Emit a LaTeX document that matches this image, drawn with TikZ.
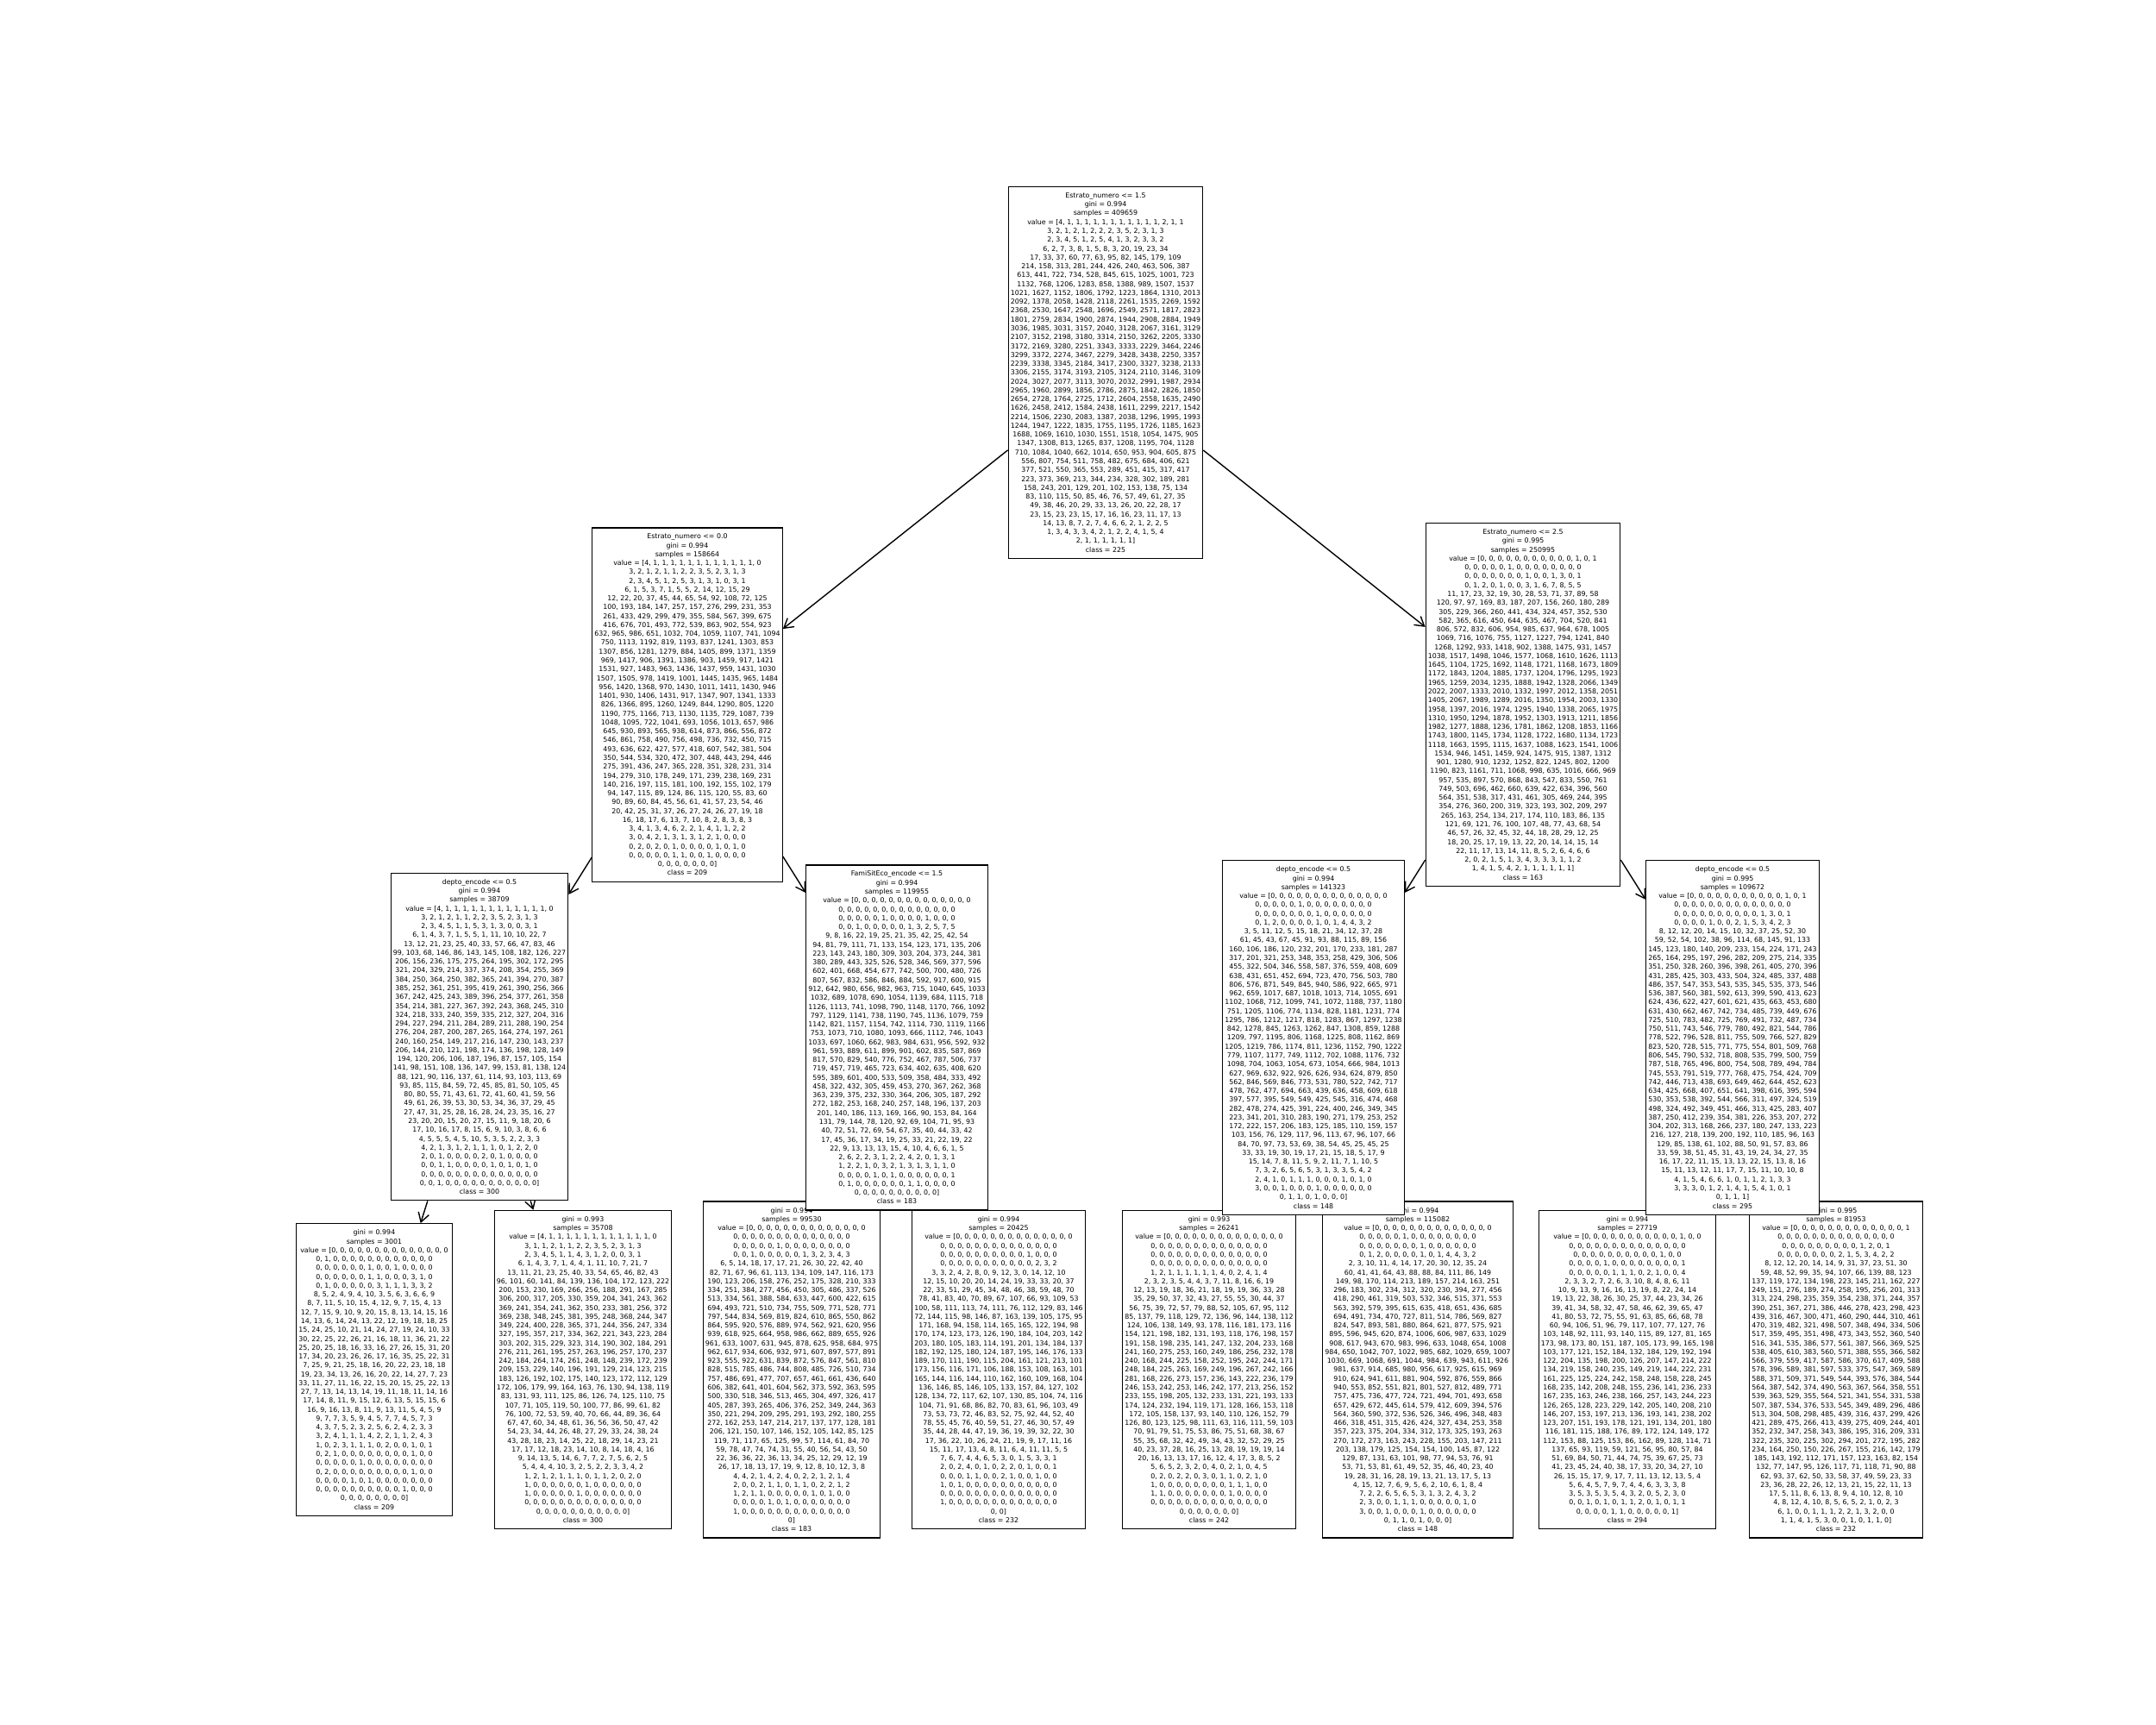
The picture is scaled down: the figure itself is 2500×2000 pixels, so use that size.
\documentclass[tikz,border=0pt]{standalone}
\usepackage{fontspec}
\setmainfont{DejaVu Sans}
\usetikzlibrary{arrows.meta,backgrounds}
\tikzset{treenode/.style={draw,fill=white,align=center,line width=0.35pt,
    inner xsep=0.7pt,inner ysep=2pt,font=\fontsize{2.24}{2.92}\selectfont}}
\begin{document}
\begin{tikzpicture}[x=0.01cm,y=-0.01cm,line width=0.35pt,>={Straight Barb[length=3pt,width=3.6pt]}]
\useasboundingbox (0,0) rectangle (2500,2000);
% leaves
\node[treenode] (lll) at (434,1588) {gini = 0.994\\samples = 3001\\value = [0, 0, 0, 0, 0, 0, 0, 0, 0, 0, 0, 0, 0, 0\\0, 1, 0, 0, 0, 0, 0, 0, 0, 0, 0, 0, 0, 0\\0, 0, 0, 0, 0, 0, 1, 0, 0, 1, 0, 0, 0, 0\\0, 0, 0, 0, 0, 0, 1, 1, 0, 0, 0, 3, 1, 0\\0, 1, 0, 0, 0, 0, 0, 3, 1, 1, 1, 3, 3, 2\\8, 5, 2, 4, 9, 4, 10, 3, 5, 6, 3, 6, 6, 9\\8, 7, 11, 5, 10, 15, 4, 12, 9, 7, 15, 4, 13\\12, 7, 15, 9, 10, 9, 20, 15, 8, 13, 14, 15, 16\\14, 13, 6, 14, 24, 13, 22, 12, 19, 18, 18, 25\\15, 24, 25, 10, 21, 14, 24, 27, 19, 24, 10, 33\\30, 22, 25, 22, 26, 21, 16, 18, 11, 36, 21, 22\\25, 20, 25, 18, 16, 33, 16, 27, 26, 15, 31, 20\\17, 34, 20, 23, 26, 26, 17, 16, 35, 25, 22, 31\\7, 25, 9, 21, 25, 18, 16, 20, 22, 23, 18, 18\\19, 23, 34, 13, 26, 16, 20, 22, 14, 27, 7, 23\\33, 11, 27, 11, 16, 22, 15, 20, 15, 25, 22, 13\\27, 7, 13, 14, 13, 14, 19, 11, 18, 11, 14, 16\\17, 14, 8, 11, 9, 15, 12, 6, 13, 5, 15, 15, 6\\16, 9, 16, 13, 8, 11, 9, 13, 11, 5, 4, 5, 9\\9, 7, 7, 3, 5, 9, 4, 5, 7, 7, 4, 5, 7, 3\\4, 3, 7, 5, 2, 3, 2, 5, 6, 2, 4, 2, 3, 3\\3, 2, 4, 1, 1, 1, 4, 2, 2, 1, 1, 2, 4, 3\\1, 0, 2, 3, 1, 1, 1, 0, 2, 0, 0, 1, 0, 1\\0, 2, 1, 0, 0, 0, 0, 0, 0, 0, 0, 1, 0, 0\\0, 0, 0, 0, 0, 1, 0, 0, 0, 0, 0, 0, 0, 0\\0, 2, 0, 0, 0, 0, 0, 0, 0, 0, 0, 1, 0, 0\\0, 0, 0, 0, 1, 0, 1, 0, 0, 0, 0, 0, 0, 0\\0, 0, 0, 0, 0, 0, 0, 0, 0, 0, 1, 0, 0, 0\\0, 0, 0, 0, 0, 0, 0, 0]\\class = 209};
\node[treenode] (llr) at (676,1588) {gini = 0.993\\samples = 35708\\value = [4, 1, 1, 1, 1, 1, 1, 1, 1, 1, 1, 1, 1, 0\\3, 1, 1, 2, 1, 1, 2, 2, 3, 5, 2, 3, 1, 3\\2, 3, 4, 5, 1, 1, 4, 3, 1, 2, 0, 0, 3, 1\\6, 1, 4, 3, 7, 1, 4, 4, 1, 11, 10, 7, 21, 7\\13, 11, 21, 23, 25, 40, 33, 54, 65, 46, 82, 43\\96, 101, 60, 141, 84, 139, 136, 104, 172, 123, 222\\200, 153, 230, 169, 266, 256, 188, 291, 167, 285\\306, 200, 317, 205, 330, 359, 204, 341, 243, 362\\369, 241, 354, 241, 362, 350, 233, 381, 256, 372\\369, 238, 348, 245, 381, 395, 248, 368, 244, 347\\349, 224, 400, 228, 365, 371, 244, 356, 247, 334\\327, 195, 357, 217, 334, 362, 221, 343, 223, 284\\303, 202, 315, 229, 323, 314, 190, 302, 184, 291\\276, 211, 261, 195, 257, 263, 196, 257, 170, 237\\242, 184, 264, 174, 261, 248, 148, 239, 172, 239\\209, 153, 229, 140, 196, 191, 129, 214, 123, 215\\183, 126, 192, 102, 175, 140, 123, 172, 112, 129\\172, 106, 179, 99, 164, 163, 76, 130, 94, 138, 119\\83, 131, 93, 111, 125, 86, 126, 74, 125, 110, 75\\107, 71, 105, 119, 50, 100, 77, 86, 99, 61, 82\\76, 100, 72, 53, 59, 40, 70, 66, 44, 89, 36, 64\\67, 47, 60, 34, 48, 61, 36, 56, 36, 50, 47, 42\\54, 23, 34, 44, 26, 48, 27, 29, 33, 24, 38, 24\\43, 28, 18, 23, 14, 25, 22, 18, 29, 14, 23, 21\\17, 17, 12, 18, 23, 14, 10, 8, 14, 18, 4, 16\\9, 14, 13, 5, 14, 6, 7, 7, 2, 7, 5, 6, 2, 5\\5, 4, 4, 4, 10, 3, 2, 5, 2, 2, 3, 3, 4, 2\\1, 2, 1, 2, 1, 1, 1, 0, 1, 1, 2, 0, 2, 0\\1, 0, 0, 0, 0, 0, 0, 1, 0, 0, 0, 0, 0, 0\\1, 0, 0, 0, 0, 0, 1, 0, 0, 0, 0, 0, 0, 0\\0, 0, 0, 0, 0, 0, 0, 0, 0, 0, 0, 0, 0, 0\\0, 0, 0, 0, 0, 0, 0, 0, 0, 0, 0]\\class = 300};
\node[treenode] (lrl) at (918,1588) {gini = 0.994\\samples = 99530\\value = [0, 0, 0, 0, 0, 0, 0, 0, 0, 0, 0, 0, 0, 0\\0, 0, 0, 0, 0, 0, 0, 0, 0, 0, 0, 0, 0, 0\\0, 0, 0, 0, 0, 1, 0, 0, 0, 0, 0, 0, 0, 0\\0, 0, 1, 0, 0, 0, 0, 0, 1, 3, 2, 3, 4, 3\\6, 5, 14, 18, 17, 17, 21, 26, 30, 22, 42, 40\\82, 71, 67, 96, 61, 113, 134, 109, 147, 116, 173\\190, 123, 206, 158, 276, 252, 175, 328, 210, 333\\334, 251, 384, 277, 456, 450, 305, 486, 337, 526\\513, 334, 561, 388, 584, 633, 447, 600, 422, 615\\694, 493, 721, 510, 734, 755, 509, 771, 528, 771\\797, 544, 834, 569, 819, 824, 610, 865, 550, 862\\864, 595, 920, 576, 889, 974, 562, 921, 620, 956\\939, 618, 925, 664, 958, 986, 662, 889, 655, 926\\961, 633, 1007, 631, 945, 878, 625, 958, 684, 975\\962, 617, 934, 606, 932, 971, 607, 897, 577, 891\\923, 555, 922, 631, 839, 872, 576, 847, 561, 810\\828, 515, 785, 486, 744, 808, 485, 726, 510, 734\\757, 486, 691, 477, 707, 657, 461, 661, 436, 640\\606, 382, 641, 401, 604, 562, 373, 592, 363, 595\\500, 330, 518, 346, 513, 465, 304, 497, 326, 417\\405, 287, 393, 265, 406, 376, 252, 349, 244, 363\\350, 221, 294, 209, 295, 291, 193, 292, 180, 255\\272, 162, 253, 147, 214, 217, 137, 177, 128, 181\\206, 121, 150, 107, 146, 152, 105, 142, 85, 125\\119, 71, 117, 65, 125, 99, 57, 114, 61, 84, 70\\59, 78, 47, 74, 74, 31, 55, 40, 56, 54, 43, 50\\22, 36, 36, 22, 36, 13, 34, 25, 12, 29, 12, 19\\26, 17, 18, 13, 17, 19, 9, 12, 8, 10, 12, 3, 8\\4, 4, 2, 1, 4, 2, 4, 0, 2, 2, 1, 2, 1, 4\\2, 0, 0, 2, 1, 1, 0, 1, 1, 0, 2, 2, 1, 2\\1, 2, 1, 1, 0, 0, 0, 0, 0, 1, 0, 1, 0, 0\\0, 0, 0, 0, 1, 0, 1, 0, 0, 0, 0, 0, 0, 0\\1, 0, 0, 0, 0, 0, 0, 0, 0, 0, 0, 0, 0, 0\\0]\\class = 183};
\node[treenode] (lrr) at (1158,1588) {gini = 0.994\\samples = 20425\\value = [0, 0, 0, 0, 0, 0, 0, 0, 0, 0, 0, 0, 0, 0\\0, 0, 0, 0, 0, 0, 0, 0, 0, 0, 0, 0, 0, 0\\0, 0, 0, 0, 0, 0, 0, 0, 0, 0, 1, 0, 0, 0\\0, 0, 0, 0, 0, 0, 0, 0, 0, 0, 0, 2, 3, 2\\3, 3, 2, 4, 2, 8, 0, 9, 12, 3, 0, 14, 12, 10\\12, 15, 10, 20, 20, 14, 24, 19, 33, 33, 20, 37\\22, 33, 51, 29, 45, 34, 48, 46, 38, 59, 48, 70\\78, 41, 83, 40, 70, 89, 67, 107, 66, 93, 109, 53\\100, 58, 111, 113, 74, 111, 76, 112, 129, 83, 146\\72, 144, 115, 98, 146, 87, 163, 139, 105, 175, 95\\171, 168, 94, 158, 114, 165, 165, 122, 194, 98\\170, 174, 123, 173, 126, 190, 184, 104, 203, 142\\203, 180, 105, 183, 114, 191, 201, 134, 184, 137\\182, 192, 125, 180, 124, 187, 195, 146, 176, 133\\189, 170, 111, 190, 115, 204, 161, 121, 213, 101\\173, 156, 116, 171, 106, 188, 153, 108, 163, 101\\165, 144, 116, 144, 110, 162, 160, 109, 168, 104\\136, 146, 85, 146, 105, 133, 157, 84, 127, 102\\128, 134, 72, 117, 62, 107, 130, 85, 104, 74, 116\\104, 71, 91, 68, 86, 82, 70, 83, 61, 96, 103, 49\\73, 53, 73, 72, 46, 83, 52, 75, 92, 44, 52, 40\\78, 55, 45, 76, 40, 59, 51, 27, 46, 30, 57, 49\\35, 44, 28, 44, 47, 19, 36, 19, 39, 32, 22, 30\\17, 36, 22, 10, 26, 24, 21, 19, 9, 17, 11, 16\\15, 11, 17, 13, 4, 8, 11, 6, 4, 11, 11, 5, 5\\7, 6, 7, 4, 4, 6, 5, 3, 0, 1, 5, 3, 3, 1\\2, 0, 2, 4, 0, 1, 0, 2, 2, 0, 1, 0, 0, 1\\0, 0, 0, 1, 1, 0, 0, 2, 1, 0, 0, 1, 0, 0\\1, 0, 1, 0, 0, 0, 0, 0, 0, 0, 0, 0, 0, 0\\0, 0, 0, 0, 0, 0, 0, 0, 0, 0, 0, 0, 0, 0\\1, 0, 0, 0, 0, 0, 0, 0, 0, 0, 0, 0, 0, 0\\0, 0]\\class = 232};
\node[treenode] (rll) at (1402,1588) {gini = 0.993\\samples = 26241\\value = [0, 0, 0, 0, 0, 0, 0, 0, 0, 0, 0, 0, 0, 0\\0, 0, 0, 0, 0, 0, 0, 0, 0, 0, 0, 0, 0, 0\\0, 0, 0, 0, 0, 0, 0, 0, 0, 0, 0, 0, 0, 0\\0, 0, 0, 0, 0, 0, 0, 0, 0, 0, 0, 0, 0, 0\\1, 2, 1, 1, 1, 1, 1, 1, 4, 0, 2, 4, 1, 4\\2, 3, 2, 3, 5, 4, 4, 3, 7, 11, 8, 16, 6, 19\\12, 13, 19, 18, 36, 21, 18, 19, 19, 36, 33, 28\\35, 29, 50, 37, 32, 43, 27, 55, 55, 30, 44, 37\\56, 75, 39, 72, 57, 79, 88, 52, 105, 67, 95, 112\\85, 137, 79, 118, 129, 72, 136, 96, 144, 138, 112\\124, 106, 138, 149, 93, 178, 116, 181, 173, 116\\154, 121, 198, 182, 131, 193, 118, 176, 198, 157\\191, 158, 198, 235, 141, 247, 132, 204, 233, 168\\241, 160, 275, 253, 160, 249, 186, 256, 232, 178\\240, 168, 244, 225, 158, 252, 195, 242, 244, 171\\248, 184, 225, 263, 169, 249, 196, 267, 242, 166\\281, 168, 226, 273, 157, 236, 143, 222, 236, 179\\246, 153, 242, 253, 146, 242, 177, 213, 256, 152\\233, 155, 198, 205, 132, 233, 131, 221, 193, 133\\174, 124, 232, 194, 119, 171, 128, 166, 153, 118\\172, 105, 158, 137, 93, 140, 110, 126, 152, 79\\126, 80, 123, 125, 98, 111, 63, 116, 111, 59, 103\\70, 91, 79, 51, 75, 53, 86, 75, 51, 68, 38, 67\\55, 35, 68, 32, 42, 49, 34, 43, 32, 52, 29, 25\\40, 23, 37, 28, 16, 25, 13, 28, 19, 19, 19, 14\\20, 16, 13, 13, 17, 16, 12, 4, 17, 3, 8, 5, 2\\5, 6, 5, 2, 3, 2, 0, 4, 0, 2, 1, 0, 4, 5\\0, 2, 0, 2, 2, 0, 3, 0, 1, 1, 0, 2, 1, 0\\1, 0, 0, 0, 0, 0, 0, 0, 0, 1, 1, 1, 0, 0\\1, 1, 0, 0, 0, 0, 0, 0, 0, 1, 0, 0, 0, 0\\0, 0, 0, 0, 0, 0, 0, 0, 0, 0, 0, 0, 0, 0\\0, 0, 0, 0, 0, 0, 0]\\class = 242};
\node[treenode] (rlr) at (1644,1588) {gini = 0.994\\samples = 115082\\value = [0, 0, 0, 0, 0, 0, 0, 0, 0, 0, 0, 0, 0, 0\\0, 0, 0, 0, 0, 1, 0, 0, 0, 0, 0, 0, 0, 0\\0, 0, 0, 0, 0, 0, 0, 1, 0, 0, 0, 0, 0, 0\\0, 1, 2, 0, 0, 0, 0, 1, 0, 1, 4, 4, 3, 2\\2, 3, 10, 11, 4, 14, 17, 20, 30, 12, 35, 24\\60, 41, 41, 64, 43, 88, 88, 84, 111, 86, 149\\149, 98, 170, 114, 213, 189, 157, 214, 163, 251\\296, 183, 302, 234, 312, 320, 230, 394, 277, 456\\418, 290, 461, 319, 503, 532, 346, 515, 371, 553\\563, 392, 579, 395, 615, 635, 418, 651, 436, 685\\694, 491, 734, 470, 727, 811, 514, 786, 569, 827\\824, 547, 893, 581, 880, 864, 621, 877, 575, 921\\895, 596, 945, 620, 874, 1006, 606, 987, 633, 1029\\908, 617, 943, 670, 983, 996, 633, 1048, 654, 1008\\984, 650, 1042, 707, 1022, 985, 682, 1029, 659, 1007\\1030, 669, 1068, 691, 1044, 984, 639, 943, 611, 926\\981, 637, 914, 685, 980, 956, 617, 925, 615, 969\\910, 624, 941, 611, 881, 904, 592, 876, 559, 866\\940, 553, 852, 551, 821, 801, 527, 812, 489, 771\\757, 475, 736, 477, 724, 721, 494, 701, 493, 658\\657, 429, 672, 445, 614, 579, 412, 609, 394, 576\\564, 360, 590, 372, 536, 526, 346, 496, 348, 483\\466, 318, 451, 315, 426, 424, 327, 434, 253, 358\\357, 223, 375, 204, 334, 312, 173, 325, 193, 263\\270, 172, 273, 163, 243, 228, 155, 203, 147, 211\\203, 138, 179, 125, 154, 154, 100, 145, 87, 122\\129, 87, 131, 63, 101, 98, 77, 94, 53, 76, 91\\53, 71, 53, 81, 61, 49, 52, 35, 46, 40, 23, 40\\19, 28, 31, 16, 28, 19, 13, 21, 13, 17, 5, 13\\4, 15, 12, 7, 6, 9, 5, 6, 2, 10, 6, 1, 8, 4\\7, 2, 2, 6, 5, 6, 5, 3, 1, 3, 2, 4, 3, 2\\2, 3, 0, 0, 1, 1, 1, 0, 0, 0, 0, 0, 1, 0\\3, 0, 0, 1, 0, 0, 0, 1, 0, 0, 0, 0, 0, 0\\0, 1, 1, 0, 1, 0, 0, 0]\\class = 148};
\node[treenode] (rrl) at (1887,1588) {gini = 0.994\\samples = 27719\\value = [0, 0, 0, 0, 0, 0, 0, 0, 0, 0, 0, 1, 0, 0\\0, 0, 0, 0, 0, 0, 0, 0, 0, 0, 0, 0, 0, 0\\0, 0, 0, 0, 0, 0, 0, 0, 0, 0, 1, 0, 0\\0, 0, 0, 0, 1, 0, 0, 0, 0, 0, 0, 0, 0, 1\\0, 0, 0, 0, 0, 1, 1, 1, 0, 2, 1, 0, 0, 4\\2, 3, 3, 2, 7, 2, 6, 3, 10, 8, 4, 8, 6, 11\\10, 9, 13, 9, 16, 16, 13, 19, 8, 22, 24, 14\\19, 13, 22, 38, 26, 30, 25, 37, 44, 23, 34, 26\\39, 41, 34, 58, 32, 47, 58, 46, 62, 39, 65, 47\\41, 80, 53, 72, 75, 55, 91, 63, 85, 66, 68, 78\\60, 94, 106, 51, 96, 79, 117, 107, 77, 127, 76\\103, 148, 92, 111, 93, 140, 115, 89, 127, 81, 165\\173, 98, 173, 80, 151, 187, 105, 173, 99, 165, 198\\103, 177, 121, 152, 184, 132, 184, 129, 192, 194\\122, 204, 135, 198, 200, 126, 207, 147, 214, 222\\134, 219, 158, 240, 235, 149, 219, 144, 222, 231\\161, 225, 125, 224, 242, 158, 248, 158, 228, 245\\168, 235, 142, 208, 248, 155, 236, 141, 236, 233\\167, 235, 163, 246, 238, 166, 257, 143, 244, 223\\126, 265, 128, 223, 229, 142, 205, 140, 208, 210\\146, 207, 153, 197, 213, 136, 193, 141, 238, 202\\123, 207, 151, 193, 178, 121, 191, 134, 201, 180\\116, 181, 115, 188, 176, 89, 172, 124, 149, 172\\112, 153, 88, 125, 153, 86, 162, 89, 128, 114, 71\\137, 65, 93, 119, 59, 121, 56, 95, 80, 57, 84\\51, 69, 84, 50, 71, 44, 74, 75, 39, 67, 25, 73\\41, 23, 45, 24, 40, 38, 17, 33, 20, 34, 27, 10\\26, 15, 15, 17, 9, 17, 7, 11, 13, 12, 13, 5, 4\\5, 6, 4, 5, 7, 9, 7, 4, 4, 6, 3, 3, 3, 8\\3, 5, 3, 5, 3, 5, 4, 3, 2, 0, 5, 2, 3, 0\\0, 0, 1, 0, 1, 0, 1, 1, 2, 0, 1, 0, 1, 1\\0, 0, 0, 0, 1, 1, 0, 0, 0, 0, 0, 1]\\class = 294};
\node[treenode] (rrr) at (2129,1588) {gini = 0.995\\samples = 81953\\value = [0, 0, 0, 0, 0, 0, 0, 0, 0, 0, 0, 0, 0, 1\\0, 0, 0, 0, 0, 0, 0, 0, 0, 0, 0, 0, 0, 0\\0, 0, 0, 0, 0, 0, 0, 0, 0, 1, 2, 0, 1\\0, 0, 0, 0, 0, 0, 0, 2, 1, 5, 3, 4, 2, 2\\8, 12, 12, 20, 14, 14, 9, 31, 37, 23, 51, 30\\59, 48, 52, 99, 35, 94, 107, 66, 139, 88, 123\\137, 119, 172, 134, 198, 223, 145, 211, 162, 227\\249, 151, 276, 189, 274, 258, 195, 256, 201, 313\\313, 224, 298, 235, 359, 354, 238, 371, 244, 357\\390, 251, 367, 271, 386, 446, 278, 423, 298, 423\\439, 316, 467, 300, 471, 460, 290, 444, 310, 461\\470, 319, 482, 321, 498, 507, 348, 494, 334, 506\\517, 359, 495, 351, 498, 473, 343, 552, 360, 540\\516, 341, 535, 386, 577, 561, 387, 566, 369, 525\\538, 405, 610, 383, 560, 571, 388, 555, 366, 582\\566, 379, 559, 417, 587, 586, 370, 617, 409, 588\\578, 396, 589, 381, 597, 533, 375, 547, 369, 589\\588, 371, 509, 371, 549, 544, 393, 576, 384, 544\\564, 387, 542, 374, 490, 563, 367, 564, 358, 551\\539, 363, 529, 355, 564, 521, 341, 554, 331, 538\\507, 387, 534, 376, 533, 545, 349, 489, 296, 486\\513, 304, 508, 298, 485, 439, 316, 437, 299, 426\\421, 289, 475, 266, 413, 439, 275, 409, 244, 401\\352, 232, 347, 258, 343, 386, 195, 316, 209, 331\\322, 235, 320, 225, 302, 294, 201, 272, 195, 282\\234, 164, 250, 150, 226, 267, 155, 216, 142, 179\\185, 143, 192, 112, 171, 157, 123, 163, 82, 154\\132, 77, 147, 95, 126, 117, 71, 118, 71, 90, 88\\62, 93, 37, 62, 50, 33, 58, 37, 49, 59, 23, 33\\23, 36, 28, 22, 26, 12, 13, 21, 15, 22, 11, 13\\17, 5, 11, 8, 6, 13, 8, 9, 4, 10, 12, 8, 10\\4, 8, 12, 4, 10, 8, 5, 6, 5, 2, 1, 0, 2, 3\\6, 1, 0, 0, 1, 1, 1, 2, 2, 1, 3, 2, 0, 0\\1, 1, 4, 1, 5, 3, 0, 0, 1, 0, 1, 1, 0]\\class = 232};
% second split
\node[treenode] (ll) at (556,1202) {depto\_encode <= 0.5\\gini = 0.994\\samples = 38709\\value = [4, 1, 1, 1, 1, 1, 1, 1, 1, 1, 1, 1, 1, 0\\3, 2, 1, 2, 1, 1, 2, 2, 3, 5, 2, 3, 1, 3\\2, 3, 4, 5, 1, 1, 5, 3, 1, 3, 0, 0, 3, 1\\6, 1, 4, 3, 7, 1, 5, 5, 1, 11, 10, 10, 22, 7\\13, 12, 21, 23, 25, 40, 33, 57, 66, 47, 83, 46\\99, 103, 68, 146, 86, 143, 145, 108, 182, 126, 227\\206, 156, 236, 175, 275, 264, 195, 302, 172, 295\\321, 204, 329, 214, 337, 374, 208, 354, 255, 369\\384, 250, 364, 250, 382, 365, 241, 394, 270, 387\\385, 252, 361, 251, 395, 419, 261, 390, 256, 366\\367, 242, 425, 243, 389, 396, 254, 377, 261, 358\\354, 214, 381, 227, 367, 392, 243, 368, 245, 310\\324, 218, 333, 240, 359, 335, 212, 327, 204, 316\\294, 227, 294, 211, 284, 289, 211, 288, 190, 254\\276, 204, 287, 200, 287, 265, 164, 274, 197, 261\\240, 160, 254, 149, 217, 216, 147, 230, 143, 237\\206, 144, 210, 121, 198, 174, 136, 198, 128, 149\\194, 120, 206, 106, 187, 196, 87, 157, 105, 154\\141, 98, 151, 108, 136, 147, 99, 153, 81, 138, 124\\88, 121, 90, 116, 137, 61, 114, 93, 103, 113, 69\\93, 85, 115, 84, 59, 72, 45, 85, 81, 50, 105, 45\\80, 80, 55, 71, 43, 61, 72, 41, 60, 41, 59, 56\\49, 61, 26, 39, 53, 30, 53, 34, 36, 37, 29, 45\\27, 47, 31, 25, 28, 16, 28, 24, 23, 35, 16, 27\\23, 20, 20, 15, 20, 27, 15, 11, 9, 18, 20, 6\\17, 10, 16, 17, 8, 15, 6, 9, 10, 3, 8, 6, 6\\4, 5, 5, 5, 4, 5, 10, 5, 3, 5, 2, 2, 3, 3\\4, 2, 1, 3, 1, 2, 1, 1, 1, 0, 1, 2, 2, 0\\2, 0, 1, 0, 0, 0, 0, 2, 0, 1, 0, 0, 0, 0\\0, 0, 1, 1, 0, 0, 0, 0, 1, 0, 1, 0, 1, 0\\0, 0, 0, 0, 0, 0, 0, 0, 0, 0, 0, 0, 0, 0\\0, 0, 1, 0, 0, 0, 0, 0, 0, 0, 0, 0, 0, 0]\\class = 300};
\node[treenode] (lr) at (1040,1203) {FamiSitEco\_encode <= 1.5\\gini = 0.994\\samples = 119955\\value = [0, 0, 0, 0, 0, 0, 0, 0, 0, 0, 0, 0, 0, 0\\0, 0, 0, 0, 0, 0, 0, 0, 0, 0, 0, 0, 0, 0\\0, 0, 0, 0, 0, 1, 0, 0, 0, 0, 1, 0, 0, 0\\0, 0, 1, 0, 0, 0, 0, 0, 1, 3, 2, 5, 7, 5\\9, 8, 16, 22, 19, 25, 21, 35, 42, 25, 42, 54\\94, 81, 79, 111, 71, 133, 154, 123, 171, 135, 206\\223, 143, 243, 180, 309, 303, 204, 373, 244, 381\\380, 289, 443, 325, 526, 528, 346, 569, 377, 596\\602, 401, 668, 454, 677, 742, 500, 700, 480, 726\\807, 567, 832, 586, 846, 884, 592, 917, 600, 915\\912, 642, 980, 656, 982, 963, 715, 1040, 645, 1033\\1032, 689, 1078, 690, 1054, 1139, 684, 1115, 718\\1126, 1113, 741, 1098, 790, 1148, 1170, 766, 1092\\797, 1129, 1141, 738, 1190, 745, 1136, 1079, 759\\1142, 821, 1157, 1154, 742, 1114, 730, 1119, 1166\\753, 1073, 710, 1080, 1093, 666, 1112, 746, 1043\\1033, 697, 1060, 662, 983, 984, 631, 956, 592, 932\\961, 593, 889, 611, 899, 901, 602, 835, 587, 869\\817, 570, 829, 540, 776, 752, 467, 787, 506, 737\\719, 457, 719, 465, 723, 634, 402, 635, 408, 620\\595, 389, 601, 400, 533, 509, 358, 484, 333, 492\\458, 322, 432, 305, 459, 453, 270, 367, 262, 368\\363, 239, 375, 232, 330, 364, 206, 305, 187, 292\\272, 182, 253, 168, 240, 257, 148, 196, 137, 203\\201, 140, 186, 113, 169, 166, 90, 153, 84, 164\\131, 79, 144, 78, 120, 92, 69, 104, 71, 95, 93\\40, 72, 51, 72, 69, 54, 67, 35, 40, 44, 33, 42\\17, 45, 36, 17, 34, 19, 25, 33, 21, 22, 19, 22\\22, 9, 13, 13, 13, 15, 4, 10, 4, 6, 6, 1, 5\\2, 6, 2, 2, 3, 1, 2, 2, 4, 2, 0, 1, 3, 1\\1, 2, 2, 1, 0, 3, 2, 1, 3, 1, 3, 1, 1, 0\\0, 0, 0, 0, 1, 0, 1, 0, 0, 0, 0, 0, 0, 1\\0, 1, 0, 0, 0, 0, 0, 0, 1, 1, 0, 0, 0, 0\\0, 0, 0, 0, 0, 0, 0, 0, 0, 0]\\class = 183};
\node[treenode] (rl) at (1523,1203) {depto\_encode <= 0.5\\gini = 0.994\\samples = 141323\\value = [0, 0, 0, 0, 0, 0, 0, 0, 0, 0, 0, 0, 0, 0\\0, 0, 0, 0, 0, 1, 0, 0, 0, 0, 0, 0, 0, 0\\0, 0, 0, 0, 0, 0, 0, 1, 0, 0, 0, 0, 0, 0\\0, 1, 2, 0, 0, 0, 0, 1, 0, 1, 4, 4, 3, 2\\3, 5, 11, 12, 5, 15, 18, 21, 34, 12, 37, 28\\61, 45, 43, 67, 45, 91, 93, 88, 115, 89, 156\\160, 106, 186, 120, 232, 201, 170, 233, 181, 287\\317, 201, 321, 253, 348, 353, 258, 429, 306, 506\\455, 322, 504, 346, 558, 587, 376, 559, 408, 609\\638, 431, 651, 452, 694, 723, 470, 756, 503, 780\\806, 576, 871, 549, 845, 940, 586, 922, 665, 971\\962, 659, 1017, 687, 1018, 1013, 714, 1055, 691\\1102, 1068, 712, 1099, 741, 1072, 1188, 737, 1180\\751, 1205, 1106, 774, 1134, 828, 1181, 1231, 774\\1295, 786, 1212, 1217, 818, 1283, 867, 1297, 1238\\842, 1278, 845, 1263, 1262, 847, 1308, 859, 1288\\1209, 797, 1195, 806, 1168, 1225, 808, 1162, 869\\1205, 1219, 786, 1174, 811, 1236, 1152, 790, 1222\\779, 1107, 1177, 749, 1112, 702, 1088, 1176, 732\\1098, 704, 1063, 1054, 673, 1054, 666, 984, 1013\\627, 969, 632, 922, 926, 626, 934, 624, 879, 850\\562, 846, 569, 846, 773, 531, 780, 522, 742, 717\\478, 762, 477, 694, 663, 439, 636, 458, 609, 618\\397, 577, 395, 549, 549, 425, 545, 316, 474, 468\\282, 478, 274, 425, 391, 224, 400, 246, 349, 345\\223, 341, 201, 310, 283, 190, 271, 179, 253, 252\\172, 222, 157, 206, 183, 125, 185, 110, 159, 157\\103, 156, 76, 129, 117, 96, 113, 67, 96, 107, 66\\84, 70, 97, 73, 53, 69, 38, 54, 45, 25, 45, 25\\33, 33, 19, 30, 19, 17, 21, 15, 18, 5, 17, 9\\15, 14, 7, 8, 11, 5, 9, 2, 11, 7, 1, 10, 5\\7, 3, 2, 6, 5, 6, 5, 3, 1, 3, 3, 5, 4, 2\\2, 4, 1, 0, 1, 1, 1, 0, 0, 0, 1, 0, 1, 0\\3, 0, 0, 1, 0, 0, 0, 1, 0, 0, 0, 0, 0, 0\\0, 1, 1, 0, 1, 0, 0, 0]\\class = 148};
\node[treenode] (rr) at (2009,1203) {depto\_encode <= 0.5\\gini = 0.995\\samples = 109672\\value = [0, 0, 0, 0, 0, 0, 0, 0, 0, 0, 0, 1, 0, 1\\0, 0, 0, 0, 0, 0, 0, 0, 0, 0, 0, 0, 0, 0\\0, 0, 0, 0, 0, 0, 0, 0, 0, 0, 1, 3, 0, 1\\0, 0, 0, 0, 1, 0, 0, 2, 1, 5, 3, 4, 2, 3\\8, 12, 12, 20, 14, 15, 10, 32, 37, 25, 52, 30\\59, 52, 54, 102, 38, 96, 114, 68, 145, 91, 133\\145, 123, 180, 140, 209, 233, 154, 224, 171, 243\\265, 164, 295, 197, 296, 282, 209, 275, 214, 335\\351, 250, 328, 260, 396, 398, 261, 405, 270, 396\\431, 285, 425, 303, 433, 504, 324, 485, 337, 488\\486, 357, 547, 353, 543, 535, 345, 535, 373, 546\\536, 387, 560, 381, 592, 613, 399, 590, 413, 623\\624, 436, 622, 427, 601, 621, 435, 663, 453, 680\\631, 430, 662, 467, 742, 734, 485, 739, 449, 676\\725, 510, 783, 482, 725, 769, 491, 732, 487, 734\\750, 511, 743, 546, 779, 780, 492, 821, 544, 786\\778, 522, 796, 528, 811, 755, 509, 766, 527, 829\\823, 520, 728, 515, 771, 775, 554, 801, 509, 768\\806, 545, 790, 532, 718, 808, 535, 799, 500, 759\\787, 518, 765, 496, 800, 754, 508, 789, 494, 784\\745, 553, 791, 519, 777, 768, 475, 754, 424, 709\\742, 446, 713, 438, 693, 649, 462, 644, 452, 623\\634, 425, 668, 407, 651, 641, 398, 616, 395, 594\\530, 353, 538, 392, 544, 566, 311, 497, 324, 519\\498, 324, 492, 349, 451, 466, 313, 425, 283, 407\\387, 250, 412, 239, 354, 381, 226, 353, 207, 272\\304, 202, 313, 168, 266, 237, 180, 247, 133, 223\\216, 127, 218, 139, 200, 192, 110, 185, 96, 163\\129, 85, 138, 61, 102, 88, 50, 91, 57, 83, 86\\33, 59, 38, 51, 45, 31, 43, 19, 24, 34, 27, 35\\16, 17, 22, 11, 15, 13, 13, 22, 15, 13, 8, 16\\15, 11, 13, 12, 11, 17, 7, 15, 11, 10, 10, 8\\4, 1, 5, 4, 6, 6, 1, 0, 1, 1, 2, 1, 3, 3\\3, 3, 3, 0, 1, 2, 1, 4, 1, 5, 4, 1, 0, 1\\0, 1, 1, 1]\\class = 295};
% first split
\node[treenode] (left) at (797,817) {Estrato\_numero <= 0.0\\gini = 0.994\\samples = 158664\\value = [4, 1, 1, 1, 1, 1, 1, 1, 1, 1, 1, 1, 1, 0\\3, 2, 1, 2, 1, 1, 2, 2, 3, 5, 2, 3, 1, 3\\2, 3, 4, 5, 1, 2, 5, 3, 1, 3, 1, 0, 3, 1\\6, 1, 5, 3, 7, 1, 5, 5, 2, 14, 12, 15, 29\\12, 22, 20, 37, 45, 44, 65, 54, 92, 108, 72, 125\\100, 193, 184, 147, 257, 157, 276, 299, 231, 353\\261, 433, 429, 299, 479, 355, 584, 567, 399, 675\\416, 676, 701, 493, 772, 539, 863, 902, 554, 923\\632, 965, 986, 651, 1032, 704, 1059, 1107, 741, 1094\\750, 1113, 1192, 819, 1193, 837, 1241, 1303, 853\\1307, 856, 1281, 1279, 884, 1405, 899, 1371, 1359\\969, 1417, 906, 1391, 1386, 903, 1459, 917, 1421\\1531, 927, 1483, 963, 1436, 1437, 959, 1431, 1030\\1507, 1505, 978, 1419, 1001, 1445, 1435, 965, 1484\\956, 1420, 1368, 970, 1430, 1011, 1411, 1430, 946\\1401, 930, 1406, 1431, 917, 1347, 907, 1341, 1333\\826, 1366, 895, 1260, 1249, 844, 1290, 805, 1220\\1190, 775, 1166, 713, 1130, 1135, 729, 1087, 739\\1048, 1095, 722, 1041, 693, 1056, 1013, 657, 986\\645, 930, 893, 565, 938, 614, 873, 866, 556, 872\\546, 861, 758, 490, 756, 498, 736, 732, 450, 715\\493, 636, 622, 427, 577, 418, 607, 542, 381, 504\\350, 544, 534, 320, 472, 307, 448, 443, 294, 446\\275, 391, 436, 247, 365, 228, 351, 328, 231, 314\\194, 279, 310, 178, 249, 171, 239, 238, 169, 231\\140, 216, 197, 115, 181, 100, 192, 155, 102, 179\\94, 147, 115, 89, 124, 86, 115, 120, 55, 83, 60\\90, 89, 60, 84, 45, 56, 61, 41, 57, 23, 54, 46\\20, 42, 25, 31, 37, 26, 27, 24, 26, 27, 19, 18\\16, 18, 17, 6, 13, 7, 10, 8, 2, 8, 3, 8, 3\\3, 4, 1, 3, 4, 6, 2, 2, 1, 4, 1, 1, 2, 2\\3, 0, 4, 2, 1, 3, 1, 3, 1, 2, 1, 0, 0, 0\\0, 2, 0, 2, 0, 1, 0, 0, 0, 0, 1, 0, 1, 0\\0, 0, 0, 0, 0, 1, 1, 0, 0, 1, 0, 0, 0, 0\\0, 0, 0, 0, 0, 0, 0]\\class = 209};
\node[treenode] (right) at (1766,817) {Estrato\_numero <= 2.5\\gini = 0.995\\samples = 250995\\value = [0, 0, 0, 0, 0, 0, 0, 0, 0, 0, 0, 1, 0, 1\\0, 0, 0, 0, 0, 1, 0, 0, 0, 0, 0, 0, 0, 0\\0, 0, 0, 0, 0, 0, 0, 1, 0, 0, 1, 3, 0, 1\\0, 1, 2, 0, 1, 0, 0, 3, 1, 6, 7, 8, 5, 5\\11, 17, 23, 32, 19, 30, 28, 53, 71, 37, 89, 58\\120, 97, 97, 169, 83, 187, 207, 156, 260, 180, 289\\305, 229, 366, 260, 441, 434, 324, 457, 352, 530\\582, 365, 616, 450, 644, 635, 467, 704, 520, 841\\806, 572, 832, 606, 954, 985, 637, 964, 678, 1005\\1069, 716, 1076, 755, 1127, 1227, 794, 1241, 840\\1268, 1292, 933, 1418, 902, 1388, 1475, 931, 1457\\1038, 1517, 1498, 1046, 1577, 1068, 1610, 1626, 1113\\1645, 1104, 1725, 1692, 1148, 1721, 1168, 1673, 1809\\1172, 1843, 1204, 1885, 1737, 1204, 1796, 1295, 1923\\1965, 1259, 2034, 1235, 1888, 1942, 1328, 2066, 1349\\2022, 2007, 1333, 2010, 1332, 1997, 2012, 1358, 2051\\1405, 2067, 1989, 1289, 2016, 1350, 1954, 2003, 1330\\1958, 1397, 2016, 1974, 1295, 1940, 1338, 2065, 1975\\1310, 1950, 1294, 1878, 1952, 1303, 1913, 1211, 1856\\1982, 1277, 1888, 1236, 1781, 1862, 1208, 1853, 1166\\1743, 1800, 1145, 1734, 1128, 1722, 1680, 1134, 1723\\1118, 1663, 1595, 1115, 1637, 1088, 1623, 1541, 1006\\1534, 946, 1451, 1459, 924, 1475, 915, 1387, 1312\\901, 1280, 910, 1232, 1252, 822, 1245, 802, 1200\\1190, 823, 1161, 711, 1068, 998, 635, 1016, 666, 969\\957, 535, 897, 570, 868, 843, 547, 833, 550, 761\\749, 503, 696, 462, 660, 639, 422, 634, 396, 560\\564, 351, 538, 317, 431, 461, 305, 469, 244, 395\\354, 276, 360, 200, 319, 323, 193, 302, 209, 297\\265, 163, 254, 134, 217, 174, 110, 183, 86, 135\\121, 69, 121, 76, 100, 107, 48, 77, 43, 68, 54\\46, 57, 26, 32, 45, 32, 44, 18, 28, 29, 12, 25\\18, 20, 25, 17, 19, 13, 22, 20, 14, 14, 15, 14\\22, 11, 17, 13, 14, 11, 8, 5, 2, 6, 4, 6, 6\\2, 0, 2, 1, 5, 1, 3, 4, 3, 3, 3, 1, 1, 2\\1, 4, 1, 5, 4, 2, 1, 1, 1, 1, 1, 1]\\class = 163};
% root
\node[treenode] (root) at (1282,432) {Estrato\_numero <= 1.5\\gini = 0.994\\samples = 409659\\value = [4, 1, 1, 1, 1, 1, 1, 1, 1, 1, 1, 1, 2, 1, 1\\3, 2, 1, 2, 1, 2, 2, 2, 3, 5, 2, 3, 1, 3\\2, 3, 4, 5, 1, 2, 5, 4, 1, 3, 2, 3, 3, 2\\6, 2, 7, 3, 8, 1, 5, 8, 3, 20, 19, 23, 34\\17, 33, 37, 60, 77, 63, 95, 82, 145, 179, 109\\214, 158, 313, 281, 244, 426, 240, 463, 506, 387\\613, 441, 722, 734, 528, 845, 615, 1025, 1001, 723\\1132, 768, 1206, 1283, 858, 1388, 989, 1507, 1537\\1021, 1627, 1152, 1806, 1792, 1223, 1864, 1310, 2013\\2092, 1378, 2058, 1428, 2118, 2261, 1535, 2269, 1592\\2368, 2530, 1647, 2548, 1696, 2549, 2571, 1817, 2823\\1801, 2759, 2834, 1900, 2874, 1944, 2908, 2884, 1949\\3036, 1985, 3031, 3157, 2040, 3128, 2067, 3161, 3129\\2107, 3152, 2198, 3180, 3314, 2150, 3262, 2205, 3330\\3172, 2169, 3280, 2251, 3343, 3333, 2229, 3464, 2246\\3299, 3372, 2274, 3467, 2279, 3428, 3438, 2250, 3357\\2239, 3338, 3345, 2184, 3417, 2300, 3327, 3238, 2133\\3306, 2155, 3174, 3193, 2105, 3124, 2110, 3146, 3109\\2024, 3027, 2077, 3113, 3070, 2032, 2991, 1987, 2934\\2965, 1960, 2899, 1856, 2786, 2875, 1842, 2826, 1850\\2654, 2728, 1764, 2725, 1712, 2604, 2558, 1635, 2490\\1626, 2458, 2412, 1584, 2438, 1611, 2299, 2217, 1542\\2214, 1506, 2230, 2083, 1387, 2038, 1296, 1995, 1993\\1244, 1947, 1222, 1835, 1755, 1195, 1726, 1185, 1623\\1688, 1069, 1610, 1030, 1551, 1518, 1054, 1475, 905\\1347, 1308, 813, 1265, 837, 1208, 1195, 704, 1128\\710, 1084, 1040, 662, 1014, 650, 953, 904, 605, 875\\556, 807, 754, 511, 758, 482, 675, 684, 406, 621\\377, 521, 550, 365, 553, 289, 451, 415, 317, 417\\223, 373, 369, 213, 344, 234, 328, 302, 189, 281\\158, 243, 201, 129, 201, 102, 153, 138, 75, 134\\83, 110, 115, 50, 85, 46, 76, 57, 49, 61, 27, 35\\49, 38, 46, 20, 29, 33, 13, 26, 20, 22, 28, 17\\23, 15, 23, 23, 15, 17, 16, 16, 23, 11, 17, 13\\14, 13, 8, 7, 2, 7, 4, 6, 6, 2, 1, 2, 2, 5\\1, 3, 4, 3, 3, 4, 2, 1, 2, 2, 4, 1, 5, 4\\2, 1, 1, 1, 1, 1, 1]\\class = 225};
\begin{scope}[on background layer]
\draw[->] (root) -- (left);
\draw[->] (root) -- (right);
\draw[->] (left) -- (ll);
\draw[->] (left) -- (lr);
\draw[->] (right) -- (rl);
\draw[->] (right) -- (rr);
\draw[->] (ll) -- (lll);
\draw[->] (ll) -- (llr);
\draw[->] (lr) -- (lrl);
\draw[->] (lr) -- (lrr);
\draw[->] (rl) -- (rll);
\draw[->] (rl) -- (rlr);
\draw[->] (rr) -- (rrl);
\draw[->] (rr) -- (rrr);
\end{scope}
\end{tikzpicture}
\end{document}
